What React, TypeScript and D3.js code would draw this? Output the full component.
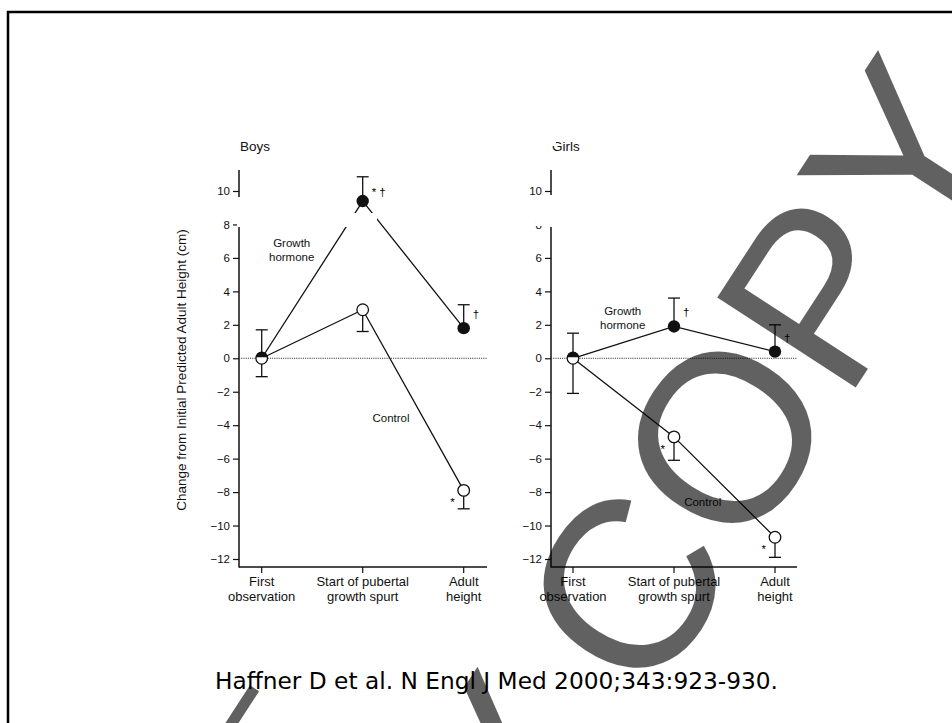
import React, { useEffect, useRef } from "react";
import * as d3 from "d3";

// Time points along the x axis, split into two label lines
const categories = ["First observation", "Start of pubertal growth spurt", "Adult height"];
const categoryLines = [["First", "observation"], ["Start of pubertal", "growth spurt"], ["Adult", "height"]];

// Change from initial predicted adult height (cm), with error bar extents
const boysGH = [0, 9.4, 1.8];
const boysGHErr = [1.7, 1.45, 1.4];
const boysControl = [0, 2.9, -7.9];
const boysControlErr = [1.1, 1.3, 1.1];

const girlsGH = [0, 1.9, 0.4];
const girlsGHErr = [1.5, 1.7, 1.6];
const girlsControl = [0, -4.7, -10.7];
const girlsControlErr = [2.1, 1.4, 1.2];

// Significance marks: "*" vs first observation, "†" vs control
const boysGHMarks = ["", "* †", "†"];
const boysControlMarks = ["", "", "*"];
const girlsGHMarks = ["", "†", "†"];
const girlsControlMarks = ["", "*", "*"];

const yTicks = [-12, -10, -8, -6, -4, -2, 0, 2, 4, 6, 8, 10];

const FONT = "'Liberation Sans', Arial, Helvetica, sans-serif";

export default function App() {
  const ref = useRef<SVGSVGElement | null>(null);

  useEffect(() => {
    const svg = d3.select(ref.current);
    svg.selectAll("*").remove();

    // frame
    svg.append("rect")
      .attr("x", 8).attr("y", 12).attr("width", 1000).attr("height", 800)
      .attr("fill", "none").attr("stroke", "#000").attr("stroke-width", 2.5);

    const y = d3.scaleLinear().domain([-12, 10]).range([559, 191]);

    const panels = [
      { title: "Boys", ax: 239, x0: 261.7, end: 487, gh: boysGH, ghErr: boysGHErr, ct: boysControl, ctErr: boysControlErr,
        ghMarks: boysGHMarks, ctMarks: boysControlMarks,
        ghLabel: [291.7, 247], ctLabel: [391, 422] },
      { title: "Girls", ax: 551, x0: 573, end: 797, gh: girlsGH, ghErr: girlsGHErr, ct: girlsControl, ctErr: girlsControlErr,
        ghMarks: girlsGHMarks, ctMarks: girlsControlMarks,
        ghLabel: [622.7, 315], ctLabel: [702.7, 506] },
    ];

    panels.forEach((p, pi) => {
      const g = svg.append("g");
      const x = d3.scalePoint<string>().domain(categories).range([p.x0, p.x0 + 202]);

      // title
      g.append("text").attr("x", p.ax + 1).attr("y", 151).text(p.title)
        .attr("font-family", FONT).attr("font-size", 13.5).attr("fill", "#111");

      // y axis
      const yAxis = d3.axisLeft(y).tickValues(yTicks).tickSize(6).tickPadding(3);
      const ya = g.append("g").attr("transform", `translate(${p.ax},0)`).call(yAxis);
      ya.select(".domain").remove();
      ya.selectAll("text").attr("font-family", FONT).attr("font-size", 11.5).attr("fill", "#111");
      ya.selectAll("line").attr("stroke", "#111").attr("stroke-width", 1.2);
      g.append("line").attr("x1", p.ax).attr("x2", p.ax).attr("y1", 170).attr("y2", 567.5)
        .attr("stroke", "#111").attr("stroke-width", 1.5);

      // x axis
      g.append("line").attr("x1", p.ax).attr("x2", p.end).attr("y1", 567).attr("y2", 567)
        .attr("stroke", "#111").attr("stroke-width", 1.5);
      categories.forEach((c, i) => {
        g.append("line").attr("x1", x(c)!).attr("x2", x(c)!).attr("y1", 567).attr("y2", 573)
          .attr("stroke", "#111").attr("stroke-width", 1.2);
        categoryLines[i].forEach((t, li) => {
          g.append("text").attr("x", x(c)!).attr("y", 586 + li * 15).attr("text-anchor", "middle")
            .attr("font-family", FONT).attr("font-size", 13).attr("fill", "#111").text(t);
        });
      });

      // zero reference
      g.append("line").attr("x1", p.ax).attr("x2", p.end).attr("y1", y(0)).attr("y2", y(0))
        .attr("stroke", "#444").attr("stroke-width", 1).attr("stroke-dasharray", "1.2,1");

      const line = d3.line<number>().x((_, i) => x(categories[i])!).y((d) => y(d));

      g.append("path").attr("d", line(p.gh)).attr("fill", "none").attr("stroke", "#111").attr("stroke-width", 1.3);
      g.append("path").attr("d", line(p.ct)).attr("fill", "none").attr("stroke", "#111").attr("stroke-width", 1.3);

      // axis gap and erased patches
      g.append("rect").attr("x", p.ax - 2).attr("y", 197).attr("width", 4).attr("height", 30).attr("fill", "#fff");
      if (pi === 0) {
        g.append("rect").attr("x", 341).attr("y", 213).attr("width", 36).attr("height", 14).attr("fill", "#fff");
      } else {
        g.append("rect").attr("x", 536).attr("y", 195).attr("width", 18).attr("height", 31).attr("fill", "#fff");
        g.append("rect").attr("x", 551).attr("y", 139).attr("width", 5).attr("height", 7).attr("fill", "#fff");
      }

      // error bars: GH upward, control downward
      const bar = (cx: number, y1: number, y2: number) => {
        g.append("line").attr("x1", cx).attr("x2", cx).attr("y1", y1).attr("y2", y2)
          .attr("stroke", "#111").attr("stroke-width", 1.3);
        g.append("line").attr("x1", cx - 6).attr("x2", cx + 6).attr("y1", y2).attr("y2", y2)
          .attr("stroke", "#111").attr("stroke-width", 1.3);
      };
      categories.forEach((c, i) => {
        bar(x(c)!, y(p.gh[i]), y(p.gh[i] + p.ghErr[i]));
        bar(x(c)!, y(p.ct[i]), y(p.ct[i] - p.ctErr[i]));
      });

      // markers
      categories.forEach((c, i) => {
        const cx = x(c)!;
        if (i === 0) {
          g.append("circle").attr("cx", cx).attr("cy", y(p.ct[i])).attr("r", 5.8)
            .attr("fill", "#fff").attr("stroke", "#111").attr("stroke-width", 1.3);
          const r = 5.8;
          g.append("path")
            .attr("d", `M${cx - r},${y(p.gh[i]) - 1} A${r},${r} 0 0 1 ${cx + r},${y(p.gh[i]) - 1} Z`)
            .attr("fill", "#111");
        } else {
          g.append("circle").attr("cx", cx).attr("cy", y(p.ct[i])).attr("r", 5.8)
            .attr("fill", "#fff").attr("stroke", "#111").attr("stroke-width", 1.3);
          g.append("circle").attr("cx", cx).attr("cy", y(p.gh[i])).attr("r", 6.2).attr("fill", "#111");
        }
      });

      // significance marks
      categories.forEach((c, i) => {
        const cx = x(c)!;
        if (p.ghMarks[i]) {
          const dy = pi === 0 && i === 1 ? -5 : -10;
          g.append("text").attr("x", cx + 9).attr("y", y(p.gh[i]) + dy).text(p.ghMarks[i])
            .attr("font-family", FONT).attr("font-size", 11.5).attr("fill", "#000");
        }
        if (p.ctMarks[i]) {
          g.append("text").attr("x", cx - 9).attr("y", y(p.ct[i]) + 16).attr("text-anchor", "end").text(p.ctMarks[i])
            .attr("font-family", FONT).attr("font-size", 11.5).attr("fill", "#000");
        }
      });

      // series labels
      ["Growth", "hormone"].forEach((t, li) => {
        g.append("text").attr("x", p.ghLabel[0]).attr("y", p.ghLabel[1] + li * 14).attr("text-anchor", "middle")
          .attr("font-family", FONT).attr("font-size", 11.5).attr("fill", "#111").text(t);
      });
      g.append("text").attr("x", p.ctLabel[0]).attr("y", p.ctLabel[1]).attr("text-anchor", "middle")
        .attr("font-family", FONT).attr("font-size", 11.5).attr("fill", "#111").text("Control");
    });

    // y axis title
    svg.append("text").attr("transform", "translate(186,370) rotate(-90)").attr("text-anchor", "middle")
      .attr("font-family", FONT).attr("font-size", 13.5).attr("fill", "#111")
      .text("Change from Initial Predicted Adult Height (cm)");

    // citation
    svg.append("text").attr("x", 215).attr("y", 689).attr("textLength", 563).attr("lengthAdjust", "spacingAndGlyphs")
      .attr("font-family", "'DejaVu Sans', sans-serif").attr("font-size", 23).attr("fill", "#000")
      .text("Haffner D et al. N Engl J Med 2000;343:923-930.");

    // watermark, repeated along the diagonal
    const wm = svg.append("g").attr("transform", "translate(649,706) rotate(-57)")
      .attr("font-family", FONT).attr("font-size", 240).attr("fill", "#000").attr("fill-opacity", 0.62);
    wm.append("text").text("COPY");
    wm.append("text").attr("x", -55).attr("text-anchor", "end").text("COPY");
    wm.append("rect").attr("x", -330).attr("y", -346).attr("width", 130).attr("height", 11);
  }, []);

  return (
    <svg ref={ref} width={952} height={723}
      style={{ position: "absolute", left: 0, top: 0, background: "#fff" }} />
  );
}
